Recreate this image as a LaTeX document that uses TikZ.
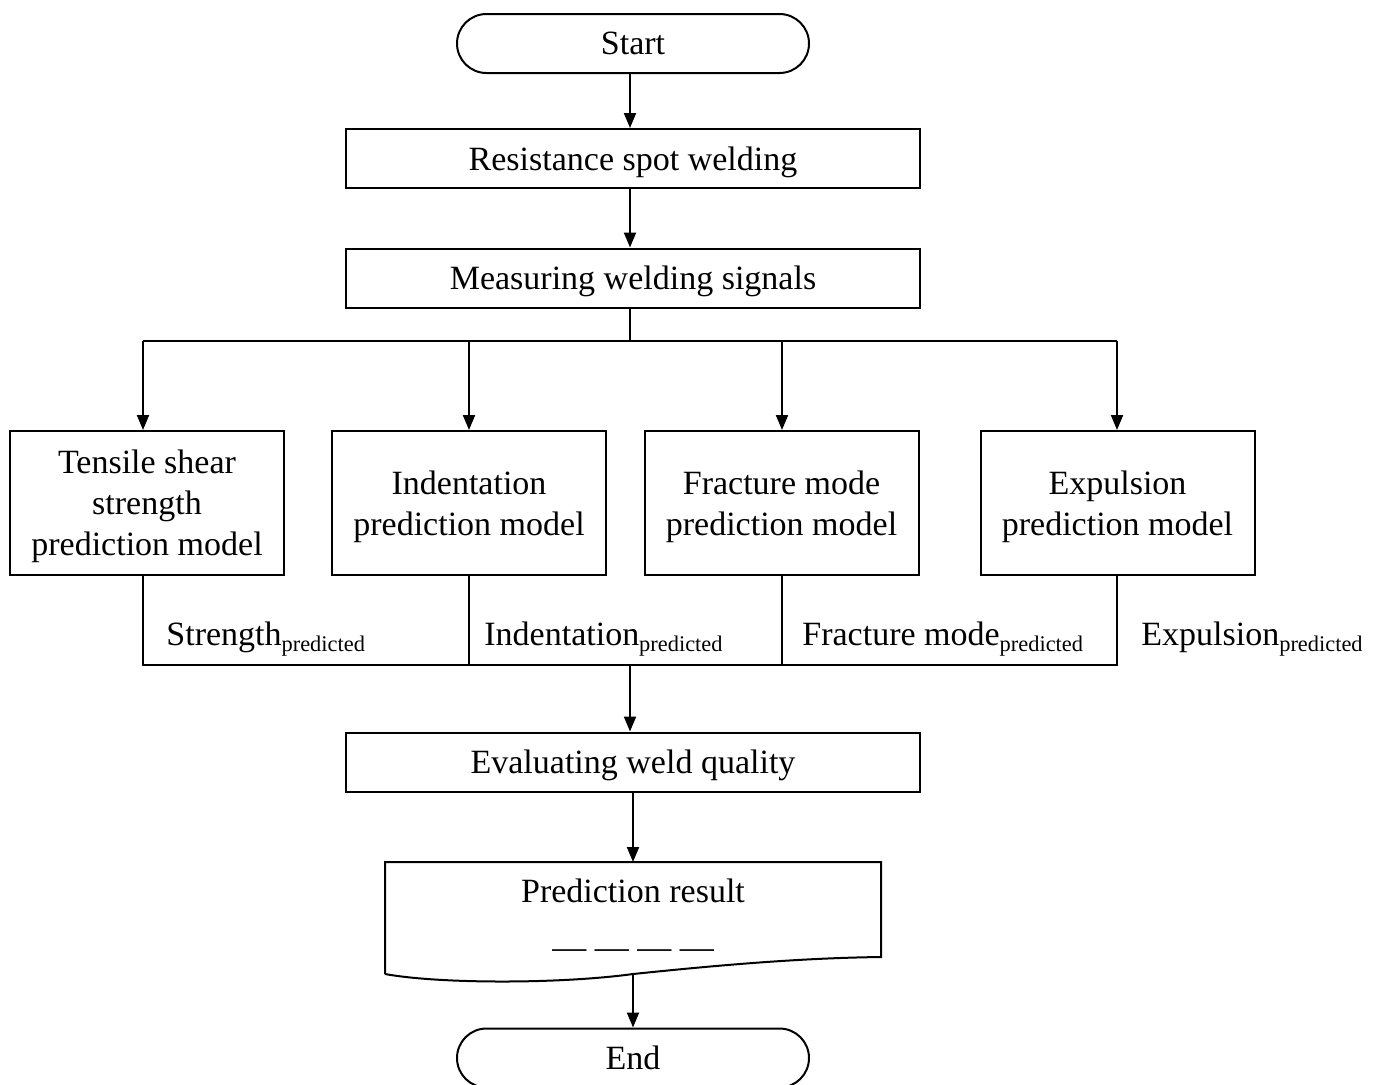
\documentclass[tikz,border=0pt]{standalone}
\usepackage{fontspec}
\setmainfont{Liberation Serif}
\usetikzlibrary{arrows.meta}
\newcommand\predsub{\raisebox{-3pt}{\fontsize{11.2}{12}\selectfont predicted}}
\begin{document}
\begin{tikzpicture}[x=0.5pt,y=-0.5pt]
\tikzset{
 txt/.style={font=\fontsize{17}{20.5}\selectfont},
 box/.style={draw, line width=1pt, minimum height=29.5pt, inner sep=0pt, align=center, text depth=0pt, txt},
 widebox/.style={box, minimum width=287pt},
 modelbox/.style={box, minimum width=137pt, minimum height=72pt},
 termbox/.style={box, rounded corners=14.75pt, minimum width=176pt},
 arr/.style={line width=1pt, -{Triangle[length=7.5pt,width=6pt]}},
 ln/.style={line width=1pt},
 lab/.style={anchor=base west, inner sep=0pt, txt}
}
\useasboundingbox (0,0) rectangle (1376,1084);
\clip (0,0) rectangle (1376,1084);
\node[termbox] (start) at (633,43.5) {Start};
\node[widebox] (rsw) at (633,158.5) {Resistance spot welding};
\node[widebox] (mws) at (633,278) {Measuring welding signals};
\node[modelbox] (m1) at (147,503) {Tensile shear\\strength\\prediction model};
\node[modelbox] (m2) at (469,503) {Indentation\\prediction model};
\node[modelbox] (m3) at (781.5,503) {Fracture mode\\prediction model};
\node[modelbox] (m4) at (1117.5,503) {Expulsion\\prediction model};
\node[widebox] (ewq) at (633,762) {Evaluating weld quality};
\node[termbox] (end) at (633,1058) {End};
% document shape
\node[txt, inner sep=0pt] (pr) at (633,891) {Prediction result};
\node[txt, inner sep=0pt] (dsh) at (633,954) {— — — —};
\draw[ln] (385,974) -- (385,862) -- (881,862) -- (881,957)
  .. controls (800,958) and (720,965) .. (633,974)
  .. controls (560,984) and (440,984) .. (385,974);
\coordinate (doctop) at (633,862);
\coordinate (docbot) at (633,975);
% connectors
\coordinate (tx) at (630,0);
\draw[arr] (start.south -| tx) -- (rsw.north -| tx);
\draw[arr] (rsw.south -| tx) -- (mws.north -| tx);
\coordinate (split) at (630,341);
\coordinate (b1) at (143,341);
\coordinate (b2) at (469,341);
\coordinate (b3) at (782,341);
\coordinate (b4) at (1117,341);
\draw[ln] (mws.south -| tx) -- (split);
\draw[ln] (b1) -- (b4);
\draw[arr] (b1) -- (b1 |- m1.north);
\draw[arr] (b2) -- (b2 |- m2.north);
\draw[arr] (b3) -- (b3 |- m3.north);
\draw[arr] (b4) -- (b4 |- m4.north);
\coordinate (merge) at (630,665);
\draw[ln] (b1 |- m1.south) -- (b1 |- merge) -- (b4 |- merge) -- (b4 |- m4.south);
\draw[ln] (b2 |- m2.south) -- (b2 |- merge);
\draw[ln] (b3 |- m3.south) -- (b3 |- merge);
\draw[arr] (merge) -- (ewq.north -| merge);
\draw[arr] (ewq.south) -- (doctop);
\draw[arr] (docbot) -- (end.north);
% labels
\node[lab] (l1) at (166,645) {Strength\predsub};
\node[lab] (l2) at (484,645) {Indentation\predsub};
\node[lab] (l3) at (802,645) {Fracture mode\predsub};
\node[lab] (l4) at (1141,645) {Expulsion\predsub};
\end{tikzpicture}
\end{document}
